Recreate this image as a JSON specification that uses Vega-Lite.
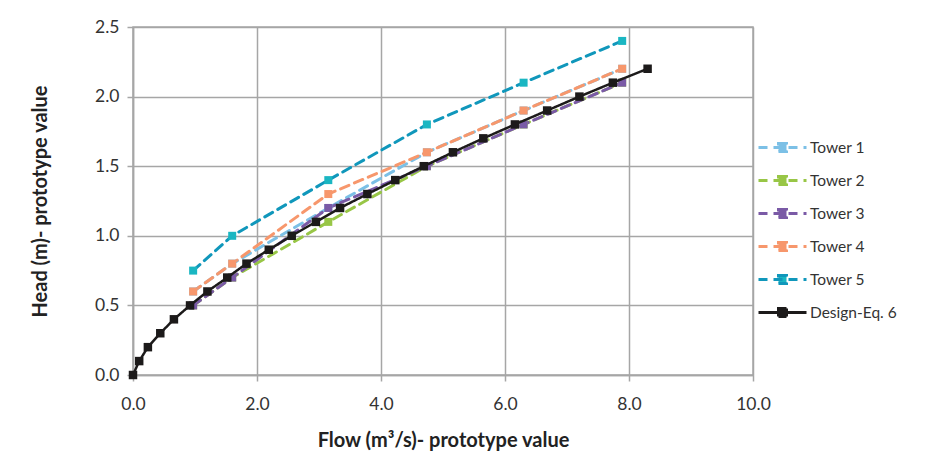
{
  "$schema": "https://vega.github.io/schema/vega-lite/v6.json",
  "width": 620,
  "height": 348,
  "autosize": {"type": "none"},
  "padding": {"left": 133, "top": 27, "right": 183, "bottom": 82},
  "background": "white",
  "config": {
    "font": "Lato",
    "view": {"stroke": "#a6a6a6", "strokeWidth": 1.5},
    "axis": {
      "gridColor": "#a6a6a6",
      "gridWidth": 1.5,
      "domainColor": "#a6a6a6",
      "domainWidth": 1.5,
      "tickColor": "#a6a6a6",
      "tickWidth": 1.5,
      "tickSize": 6,
      "labelFont": "Lato",
      "labelFontSize": 17.5,
      "labelColor": "#333333",
      "labelFlush": false,
      "titleFont": "Lato",
      "titleFontSize": 20,
      "titleFontWeight": "bold",
      "titleColor": "#222222"
    }
  },
  "data": {
    "values": [
      {"series": "Tower 1", "flow": 0.97, "head": 0.6},
      {"series": "Tower 1", "flow": 1.6, "head": 0.8},
      {"series": "Tower 1", "flow": 3.15, "head": 1.2},
      {"series": "Tower 1", "flow": 4.74, "head": 1.6},
      {"series": "Tower 1", "flow": 6.3, "head": 1.9},
      {"series": "Tower 1", "flow": 7.89, "head": 2.2},
      {"series": "Tower 2", "flow": 0.97, "head": 0.5},
      {"series": "Tower 2", "flow": 1.6, "head": 0.7},
      {"series": "Tower 2", "flow": 3.15, "head": 1.1},
      {"series": "Tower 2", "flow": 4.74, "head": 1.5},
      {"series": "Tower 2", "flow": 6.3, "head": 1.8},
      {"series": "Tower 2", "flow": 7.89, "head": 2.1},
      {"series": "Tower 3", "flow": 0.97, "head": 0.5},
      {"series": "Tower 3", "flow": 1.6, "head": 0.7},
      {"series": "Tower 3", "flow": 3.15, "head": 1.2},
      {"series": "Tower 3", "flow": 4.74, "head": 1.5},
      {"series": "Tower 3", "flow": 6.3, "head": 1.8},
      {"series": "Tower 3", "flow": 7.89, "head": 2.1},
      {"series": "Tower 4", "flow": 0.97, "head": 0.6},
      {"series": "Tower 4", "flow": 1.6, "head": 0.8},
      {"series": "Tower 4", "flow": 3.15, "head": 1.3},
      {"series": "Tower 4", "flow": 4.74, "head": 1.6},
      {"series": "Tower 4", "flow": 6.3, "head": 1.9},
      {"series": "Tower 4", "flow": 7.89, "head": 2.2},
      {"series": "Tower 5", "flow": 0.97, "head": 0.75},
      {"series": "Tower 5", "flow": 1.6, "head": 1.0},
      {"series": "Tower 5", "flow": 3.15, "head": 1.4},
      {"series": "Tower 5", "flow": 4.74, "head": 1.8},
      {"series": "Tower 5", "flow": 6.3, "head": 2.1},
      {"series": "Tower 5", "flow": 7.89, "head": 2.4},
      {"series": "Design-Eq. 6", "flow": 0.0, "head": 0.0},
      {"series": "Design-Eq. 6", "flow": 0.1, "head": 0.1},
      {"series": "Design-Eq. 6", "flow": 0.24, "head": 0.2},
      {"series": "Design-Eq. 6", "flow": 0.44, "head": 0.3},
      {"series": "Design-Eq. 6", "flow": 0.66, "head": 0.4},
      {"series": "Design-Eq. 6", "flow": 0.92, "head": 0.5},
      {"series": "Design-Eq. 6", "flow": 1.2, "head": 0.6},
      {"series": "Design-Eq. 6", "flow": 1.52, "head": 0.7},
      {"series": "Design-Eq. 6", "flow": 1.83, "head": 0.8},
      {"series": "Design-Eq. 6", "flow": 2.19, "head": 0.9},
      {"series": "Design-Eq. 6", "flow": 2.56, "head": 1.0},
      {"series": "Design-Eq. 6", "flow": 2.95, "head": 1.1},
      {"series": "Design-Eq. 6", "flow": 3.34, "head": 1.2},
      {"series": "Design-Eq. 6", "flow": 3.78, "head": 1.3},
      {"series": "Design-Eq. 6", "flow": 4.23, "head": 1.4},
      {"series": "Design-Eq. 6", "flow": 4.69, "head": 1.5},
      {"series": "Design-Eq. 6", "flow": 5.16, "head": 1.6},
      {"series": "Design-Eq. 6", "flow": 5.65, "head": 1.7},
      {"series": "Design-Eq. 6", "flow": 6.16, "head": 1.8},
      {"series": "Design-Eq. 6", "flow": 6.68, "head": 1.9},
      {"series": "Design-Eq. 6", "flow": 7.2, "head": 2.0},
      {"series": "Design-Eq. 6", "flow": 7.74, "head": 2.1},
      {"series": "Design-Eq. 6", "flow": 8.3, "head": 2.2}
    ]
  },
  "encoding": {
    "x": {
      "field": "flow", "type": "quantitative",
      "scale": {"domain": [0, 10], "nice": false},
      "axis": {"values": [0, 2, 4, 6, 8, 10], "format": ".1f", "labelPadding": 14, "title": "Flow (m³/s)- prototype value", "titlePadding": 18}
    },
    "y": {
      "field": "head", "type": "quantitative",
      "scale": {"domain": [0, 2.5], "nice": false},
      "axis": {"values": [0, 0.5, 1, 1.5, 2, 2.5], "format": ".1f", "labelPadding": 8, "title": "Head (m)- prototype value", "titlePadding": 44}
    },
    "color": {
      "field": "series", "type": "nominal",
      "scale": {
        "domain": ["Tower 1", "Tower 2", "Tower 3", "Tower 4", "Tower 5", "Design-Eq. 6"],
        "range": ["#7cc0e6", "#98c646", "#7a5aa6", "#f7976c", "#1097bb", "#1c1a1a"]
      },
      "legend": {
        "title": null,
        "orient": "none",
        "legendX": 624,
        "legendY": 111,
        "padding": 0,
        "symbolType": "M-1,0H5M1.5,-0.5H2.5V0.5H1.5Z",
        "symbolSize": 256,
        "symbolStrokeWidth": 3,
        "labelOffset": 34,
        "labelFontSize": 15.5,
        "labelFont": "Lato",
        "labelColor": "#333333",
        "rowPadding": 12,
        "encode": {"symbols": {"update": {"fill": {"scale": "fill", "field": "value"}, "fillOpacity": {"value": 1}}}}
      }
    },
    "strokeDash": {
      "field": "series", "type": "nominal",
      "scale": {
        "domain": ["Tower 1", "Tower 2", "Tower 3", "Tower 4", "Tower 5", "Design-Eq. 6"],
        "range": [[9, 6], [9, 6], [9, 6], [9, 6], [9, 6], [1, 0]]
      },
      "legend": null
    }
  },
  "layer": [
    {
      "transform": [{"filter": "datum.series != 'Design-Eq. 6'"}],
      "mark": {"type": "line", "strokeWidth": 3, "strokeCap": "round"}
    },
    {
      "transform": [{"filter": "datum.series != 'Design-Eq. 6'"}],
      "mark": {"type": "point", "shape": "square", "filled": true, "size": 64, "opacity": 1},
      "encoding": {
        "strokeDash": null,
        "fill": {
          "field": "series", "type": "nominal",
          "scale": {
            "domain": ["Tower 1", "Tower 2", "Tower 3", "Tower 4", "Tower 5", "Design-Eq. 6"],
            "range": ["#7cc0e6", "#98c646", "#7a5aa6", "#f7976c", "#1ab6c2", "#1c1a1a"]
          },
          "legend": null
        }
      }
    },
    {
      "transform": [{"filter": "datum.series == 'Design-Eq. 6'"}],
      "mark": {"type": "line", "strokeWidth": 2.5}
    },
    {
      "transform": [{"filter": "datum.series == 'Design-Eq. 6'"}],
      "mark": {"type": "point", "shape": "square", "filled": true, "size": 72, "opacity": 1},
      "encoding": {
        "strokeDash": null,
        "fill": {
          "field": "series", "type": "nominal",
          "scale": {
            "domain": ["Tower 1", "Tower 2", "Tower 3", "Tower 4", "Tower 5", "Design-Eq. 6"],
            "range": ["#7cc0e6", "#98c646", "#7a5aa6", "#f7976c", "#1ab6c2", "#1c1a1a"]
          },
          "legend": null
        }
      }
    }
  ]
}
